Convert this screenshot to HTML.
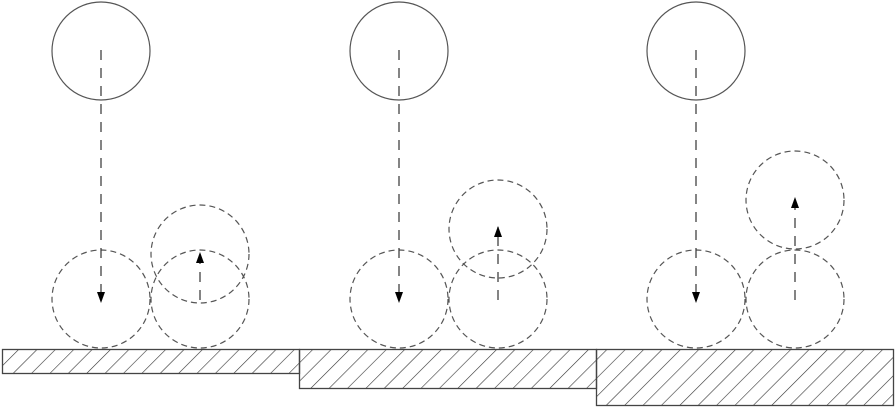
<!DOCTYPE html>
<html><head><meta charset="utf-8"><style>html,body{margin:0;padding:0;background:#fff;}svg{display:block}</style></head>
<body>
<svg width="896" height="408" viewBox="0 0 896 408" xmlns="http://www.w3.org/2000/svg">
<defs>
<pattern id="h" patternUnits="userSpaceOnUse" width="13" height="13" patternTransform="rotate(45)">
<line x1="0" y1="0" x2="0" y2="13" stroke="#333" stroke-width="1.2"/>
</pattern>
<marker id="a" markerWidth="11" markerHeight="8" refX="10" refY="4" orient="auto" markerUnits="userSpaceOnUse" viewBox="0 0 11 8">
<path d="M0,0 L11,4 L0,8 z" fill="#000"/>
</marker>
</defs>
<g fill="url(#h)" stroke="#444" stroke-width="1.3">
<rect x="2.5" y="349.5" width="297" height="24"/>
<rect x="299.5" y="349.5" width="297" height="39"/>
<rect x="596.5" y="349.5" width="297" height="56"/>
</g>
<g fill="none" stroke="#555" stroke-width="1.2">
<circle cx="101" cy="51" r="49"/>
<circle cx="399" cy="51" r="49"/>
<circle cx="696" cy="51" r="49"/>
</g>
<g fill="none" stroke="#555" stroke-width="1.2" stroke-dasharray="6,4">
<circle cx="101" cy="299" r="49"/>
<circle cx="200" cy="299" r="49"/>
<circle cx="200" cy="254" r="49"/>
<circle cx="399" cy="299" r="49"/>
<circle cx="498" cy="299" r="49"/>
<circle cx="498" cy="229" r="49"/>
<circle cx="696" cy="299" r="49"/>
<circle cx="795" cy="299" r="49"/>
<circle cx="795" cy="200" r="49"/>
</g>
<g stroke="#333" stroke-width="1.2" stroke-dasharray="10,8" fill="none">
<line x1="101" y1="50" x2="101" y2="302" marker-end="url(#a)"/>
<line x1="399" y1="50" x2="399" y2="302" marker-end="url(#a)"/>
<line x1="696" y1="50" x2="696" y2="302" marker-end="url(#a)"/>
<line x1="200" y1="300" x2="200" y2="253" marker-end="url(#a)"/>
<line x1="498" y1="300" x2="498" y2="227" marker-end="url(#a)"/>
<line x1="795" y1="300" x2="795" y2="198" marker-end="url(#a)"/>
</g>
</svg>
</body></html>
